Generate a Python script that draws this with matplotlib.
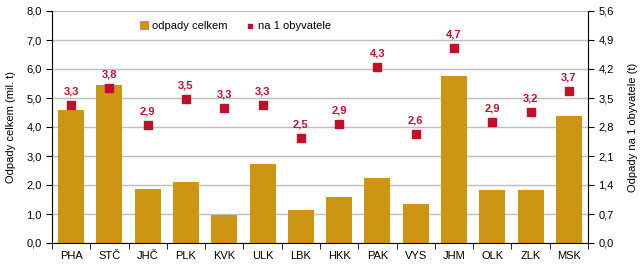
import matplotlib
matplotlib.use("Agg")
import matplotlib.pyplot as plt
import numpy as np

plt.rcParams['font.family'] = ['Liberation Sans', 'DejaVu Sans']

categories = ["PHA", "STČ", "JHČ", "PLK", "KVK", "ULK", "LBK", "HKK", "PAK", "VYS", "JHM", "OLK", "ZLK", "MSK"]
total_mil_t = [4.60, 5.46, 1.87, 2.11, 0.98, 2.73, 1.15, 1.60, 2.25, 1.36, 5.77, 1.84, 1.84, 4.39]
per_capita_t = [3.33, 3.74, 2.85, 3.48, 3.26, 3.33, 2.54, 2.87, 4.25, 2.63, 4.71, 2.92, 3.16, 3.67]
per_capita_labels = ["3,3", "3,8", "2,9", "3,5", "3,3", "3,3", "2,5", "2,9", "4,3", "2,6", "4,7", "2,9", "3,2", "3,7"]
left_ticks = [0, 1, 2, 3, 4, 5, 6, 7, 8]
right_ticks = [0, 0.7, 1.4, 2.1, 2.8, 3.5, 4.2, 4.9, 5.6]

bar_color = "#CC9614"
mark_color = "#C0102A"

fig = plt.figure(figsize=(6.43, 2.65), dpi=100)
ax = fig.add_axes([52/643, 22/265, 536/643, 232/265])
x = np.arange(len(categories))
ax.set_axisbelow(True)
ax.yaxis.grid(True, color="#BDBDBD", linewidth=1)
bars = ax.bar(x, total_mil_t, width=0.68, color=bar_color, label="odpady celkem", zorder=2)
ax.set_xlim(-0.5, len(categories) - 0.5)
ax.set_ylim(0, 8)
ax.set_yticks(left_ticks)
ax.set_yticklabels([f"{v:.1f}".replace(".", ",") for v in left_ticks])
ax.set_xticks(x)
ax.set_xticklabels(categories)
ax.set_xticks(np.arange(-0.5, len(categories), 1), minor=True)
ax.tick_params(axis='x', which='major', length=0, pad=6)
ax.tick_params(axis='x', which='minor', length=4, direction='out', color='black')
ax.tick_params(axis='y', length=4, direction='out', labelsize=8)
ax.tick_params(axis='x', labelsize=8)
ax.set_ylabel("Odpady celkem (mil. t)", fontsize=8, labelpad=7)
ax.spines['top'].set_visible(False)
ax.spines['right'].set_visible(False)
ax.spines['left'].set_color('black')
ax.spines['bottom'].set_color('black')

ax2 = ax.twinx()
ax2.set_ylim(0, 5.6)
ax2.set_yticks(right_ticks)
ax2.set_yticklabels([f"{v:.1f}".replace(".", ",") for v in right_ticks])
ax2.tick_params(axis='y', length=4, direction='out', labelsize=8)
sc = ax2.scatter(x, per_capita_t, marker='s', s=30, color=mark_color, label="na 1 obyvatele", zorder=3)
for xi, yi, lab in zip(x, per_capita_t, per_capita_labels):
    ax2.annotate(lab, (xi, yi), xytext=(0, 6), textcoords='offset points', ha='center', va='bottom',
                 color=mark_color, fontsize=8, fontweight='bold')
ax2.set_ylabel("Odpady na 1 obyvatele (t)", fontsize=8, labelpad=10)
ax2.spines['top'].set_visible(False)
ax2.spines['left'].set_visible(False)
ax2.spines['bottom'].set_visible(False)
ax2.spines['right'].set_color('black')

h1, l1 = ax.get_legend_handles_labels()
h2, l2 = ax2.get_legend_handles_labels()
leg = ax.legend(h1 + h2, l1 + l2, loc='upper left', bbox_to_anchor=(0.15, 0.99), ncol=2, frameon=False,
                fontsize=8, handlelength=0.8, handleheight=0.8, handletextpad=0.3, columnspacing=1.6,
                markerscale=0.6, borderaxespad=0.3)

fig.savefig("out.png", dpi=100)
